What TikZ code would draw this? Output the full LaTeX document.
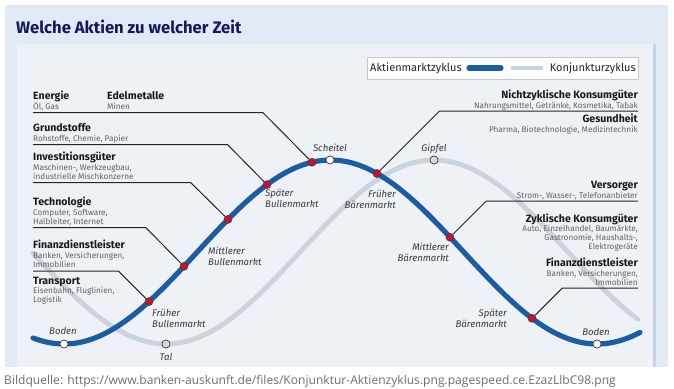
\documentclass[tikz,border=0pt]{standalone}
\usepackage{fontspec}
\setmainfont{Fira Sans}
\newfontfamily\capfont{Open Sans}
\usepackage{tikz}
\usetikzlibrary{shadows}
\definecolor{frameblue}{HTML}{E2EAF7}
\definecolor{panelgray}{HTML}{EEF2F6}
\definecolor{panelshade}{HTML}{C9D3E6}
\definecolor{navy}{HTML}{121A5C}
\definecolor{aktieblue}{HTML}{1B5CA3}
\definecolor{konjgray}{HTML}{C8D5DF}
\definecolor{dotred}{HTML}{C4122F}
\definecolor{capgray}{HTML}{6E6E6E}
\definecolor{labgray}{HTML}{3A3A3A}

\begin{document}
\begin{tikzpicture}[
  x=0.03cm, y=-0.03cm,
  aktie/.style={line width=4.4pt, aktieblue, line cap=round},
  konj/.style={line width=4.2pt, konjgray, line cap=round},
  leader/.style={line width=0.85pt, black!85},
  reddot/.style={circle, fill=dotred, draw=black!75, line width=0.5pt,
                 inner sep=0pt, minimum size=6.8pt},
  opendot/.style={circle, fill=white, draw=black!80, line width=0.6pt,
                  inner sep=0pt, minimum size=7pt},
  greydot/.style={opendot, fill=black!15},
  cat/.style={font=\fontsize{9}{10}\selectfont\bfseries, text=black!90,
              inner sep=0pt, anchor=base west},
  catr/.style={cat, anchor=base east},
  sub/.style={font=\fontsize{7}{7.65}\selectfont, text=black!62,
              inner sep=0pt, align=left, anchor=base west},
  subr/.style={sub, align=right, anchor=base east},
  phase/.style={font=\fontsize{8.2}{9.35}\selectfont\itshape, text=labgray,
                inner sep=0pt, align=left, anchor=base west},
  phaser/.style={phase, align=right, anchor=base east},
  legtext/.style={font=\fontsize{9.4}{10}\selectfont, text=black!85,
                  inner sep=0pt}]

\useasboundingbox (0,0) rectangle (674,388);

% ---- frame, panel and heading -----------------------------------------
\fill[white] (0,0) rectangle (674,388);
\fill[frameblue] (5,5) rectangle (668,367);
\fill[panelshade] (653,44) rectangle (656,367);
\fill[panelgray] (17,44) rectangle (653,367);
\node[font=\fontsize{14.2}{16}\selectfont\bfseries, text=navy, inner sep=0pt,
      anchor=base west] (title) at (16,33) {Welche Aktien zu welcher Zeit};
\node[font=\capfont\fontsize{10.3}{11}\selectfont, text=capgray, inner sep=0pt,
      anchor=base west] (source) at (4,384)
  {Bildquelle: https://www.banken-auskunft.de/files/Konjunktur-Aktienzyklus.png.pagespeed.ce.EzazLlbC98.png};

% ---- legend -------------------------------------------------------------
\node[draw=black!22, fill=white!96!panelgray, line width=0.6pt,
      drop shadow={opacity=0.18, shadow xshift=0.8pt, shadow yshift=-0.8pt},
      minimum width=8.13cm, minimum height=0.66cm, inner sep=0pt]
  (legend) at (502.5,68) {};
\node[legtext, anchor=west] (legA) at (370,68) {Aktienmarktzyklus};
\node[legtext, anchor=east] (legK) at (636,68) {Konjunkturzyklus};
\coordinate (la1) at (469,68);
\coordinate (la2) at (501,68);
\coordinate (lk1) at (513,68);
\coordinate (lk2) at (541,68);
\draw[aktie] (la1) -- (la2);
\draw[konj]  (lk1) -- (lk2);

% ---- the two cycles: y = 252 + 92 cos(360 (x - x_min) / period) -------
\draw[konj]  plot[domain=33:638, samples=140]
  (\x, {252+92*cos((\x-166)/536*360)});
\draw[aktie] plot[domain=33:640, samples=140]
  (\x, {252+92*cos((\x-64)/533*360)});

% ---- left column: sector names (multi-line subs sit on their last line) --
\node[cat] (energieT)   at (33,99.5)  {Energie};
\node[sub] (energieS)   at (33,109.5) {Öl, Gas};
\node[cat] (edelT)      at (107,99.5) {Edelmetalle};
\node[sub] (edelS)      at (107,109.5) {Minen};
\node[cat] (grundT)     at (33,131.5) {Grundstoffe};
\node[sub] (grundS)     at (33,141.5) {Rohstoffe, Chemie, Papier};
\node[cat] (investT)    at (33,160.5) {Investitionsgüter};
\node[sub] (investS)    at (33,179.5)
  {Maschinen-, Werkzeugbau,\\industrielle Mischkonzerne};
\node[cat] (techT)      at (33,205.5) {Technologie};
\node[sub] (techS)      at (33,224.5) {Computer, Software,\\Halbleiter, Internet};
\node[cat] (finlT)      at (33,248.5) {Finanzdienstleister};
\node[sub] (finlS)      at (33,267.5) {Banken, Versicherungen,\\Immobilien};
\node[cat] (transT)     at (33,284)   {Transport};
\node[sub] (transS)     at (33,302.5) {Eisenbahn, Fluglinien,\\Logistik};

% ---- right column ------------------------------------------------------
\node[catr] (nichtT)    at (638,98)   {Nichtzyklische Konsumgüter};
\node[subr] (nichtS)    at (638,108)  {Nahrungsmittel, Getränke, Kosmetika, Tabak};
\node[catr] (gesundT)   at (638,122.5) {Gesundheit};
\node[subr] (gesundS)   at (638,132.5) {Pharma, Biotechnologie, Medizintechnik};
\node[catr] (versT)     at (638,188)  {Versorger};
\node[subr] (versS)     at (638,198)  {Strom-, Wasser-, Telefonanbieter};
\node[catr] (zyklT)     at (638,222.5) {Zyklische Konsumgüter};
\node[subr] (zyklS)     at (638,249.5)
  {Auto, Einzelhandel, Baumärkte,\\Gastronomie, Haushalts-,\\Elektrogeräte};
\node[catr] (finrT)     at (638,266)  {Finanzdienstleister};
\node[subr] (finrS)     at (638,285)  {Banken, Versicherungen,\\Immobilien};

% ---- underline start, knee, and the red dot on the stock curve ----------
\coordinate (u1) at (33,271);   \coordinate (k1) at (118.4,271);
\coordinate (u2) at (33,227.5); \coordinate (k2) at (145.7,227.5);
\coordinate (u3) at (33,182.5); \coordinate (k3) at (190.6,182.5);
\coordinate (u4) at (33,144.5); \coordinate (k4) at (227.4,144.5);
\coordinate (u5) at (33,112.5); \coordinate (k5) at (262.8,112.5);
\coordinate (u6) at (638,111);  \coordinate (k6) at (439.5,111);
\coordinate (u7) at (638,201);  \coordinate (k7) at (486.2,201);
\coordinate (u8) at (638,288);  \coordinate (k8) at (562.3,288);

\node[reddot] (d1) at (149,301.6) {};
\node[reddot] (d2) at (184,266.3) {};
\node[reddot] (d3) at (228,219.4) {};
\node[reddot] (d4) at (267,184.6) {};
\node[reddot] (d5) at (312,162.2) {};
\node[reddot] (d6) at (377,173.5) {};
\node[reddot] (d7) at (450,237.2) {};
\node[reddot] (d8) at (532,318.3) {};

\foreach \i in {1,...,8}
  \draw[leader] (u\i) -- (k\i) -- (d\i);

% ---- turning points --------------------------------------------------------
\node[opendot] (boden1)   at (64,344)  {};
\node[opendot] (scheitel) at (330,160) {};
\node[opendot] (boden2)   at (597,344) {};
\node[greydot] (tal)      at (166,344) {};
\node[greydot] (gipfel)   at (434,160) {};

\node[phase, anchor=base] (bodenL)   at (63,334)    {Boden};
\node[phase, anchor=base] (bodenR)   at (596,335)   {Boden};
\node[phase, anchor=base] (talL)     at (166,360)   {Tal};
\node[phase, anchor=base] (scheitelL) at (330,151.5) {Scheitel};
\node[phase, anchor=base] (gipfelL)  at (434,151.5) {Gipfel};

% ---- phases of the market (anchored on the second line) ---------------------
\node[phase]  (fruehBull)  at (152,327) {Früher\\Bullenmarkt};
\node[phase]  (mittBull)   at (208,265) {Mittlerer\\Bullenmarkt};
\node[phase]  (spaetBull)  at (265,207) {Später\\Bullenmarkt};
\node[phaser] (fruehBaer)  at (396,208) {Früher\\Bärenmarkt};
\node[phaser] (mittBaer)   at (449,261) {Mittlerer\\Bärenmarkt};
\node[phaser] (spaetBaer)  at (507,327) {Später\\Bärenmarkt};
\end{tikzpicture}
\end{document}
